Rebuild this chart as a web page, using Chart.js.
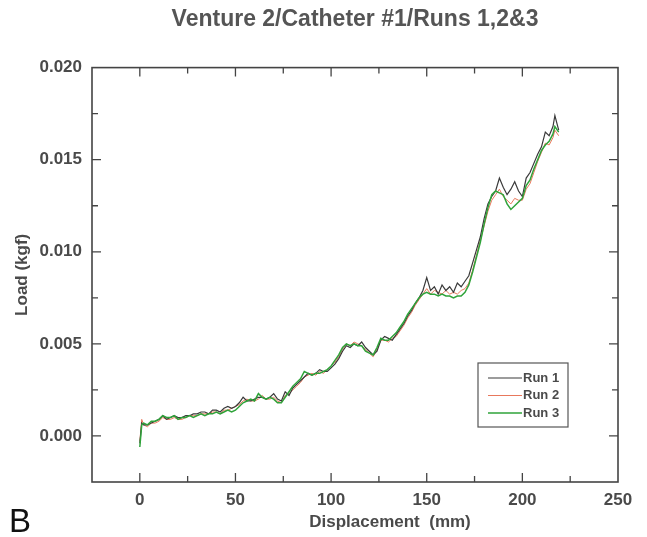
<!DOCTYPE html>
<html>
<head>
<meta charset="utf-8">
<script src="https://cdn.jsdelivr.net/npm/chart.js@4.4.1/dist/chart.umd.min.js"></script>
<style>
  body { margin: 0; background: #fff; }
  #wrap { width: 647px; height: 537px; }
</style>
</head>
<body>
<div id="wrap"><canvas id="loadChart" width="647" height="537"></canvas></div>
<script>
let loadChart = document.querySelector("#loadChart");

let displacement = [
  0, 1, 2, 4, 6, 8, 10, 12, 14, 16,
  18, 20, 22, 24, 26, 28, 30, 32, 34, 36,
  38, 40, 42, 44, 46, 48, 50, 52, 54, 56,
  58, 60, 62, 64, 66, 68, 70, 72, 74, 76,
  78, 80, 82, 84, 86, 88, 90, 92, 94, 96,
  98, 100, 102, 104, 106, 108, 110, 112, 114, 116,
  118, 120, 122, 124, 126, 128, 130, 132, 134, 136,
  138, 140, 142, 144, 146, 148, 150, 152, 154, 156,
  158, 160, 162, 164, 166, 168, 170, 172, 174, 176,
  178, 180, 182, 184, 186, 188, 190, 192, 194, 196,
  198, 200, 202, 204, 206, 208, 210, 212, 214, 216,
  217, 219,
];
let run1 = [
  -0.0004, 0.0007, 0.0006, 0.0006, 0.0007, 0.0008, 0.0009, 0.0011, 0.0009, 0.0010,
  0.0011, 0.0010, 0.0010, 0.0011, 0.0011, 0.0012, 0.0012, 0.0013, 0.0013, 0.0012,
  0.0014, 0.0014, 0.0013, 0.0015, 0.0016, 0.0015, 0.0016, 0.0018, 0.0021, 0.0019,
  0.0019, 0.0020, 0.0021, 0.0021, 0.0020, 0.0021, 0.0023, 0.0020, 0.0019, 0.0024,
  0.0022, 0.0026, 0.0028, 0.0030, 0.0032, 0.0034, 0.0033, 0.0034, 0.0036, 0.0035,
  0.0035, 0.0037, 0.0039, 0.0042, 0.0046, 0.0049, 0.0048, 0.0050, 0.0049, 0.0051,
  0.0048, 0.0046, 0.0044, 0.0046, 0.0052, 0.0054, 0.0053, 0.0052, 0.0055, 0.0058,
  0.0061, 0.0065, 0.0068, 0.0072, 0.0075, 0.0079, 0.0086, 0.0079, 0.0081, 0.0077,
  0.0082, 0.0079, 0.0081, 0.0078, 0.0083, 0.0081, 0.0084, 0.0087, 0.0094, 0.0101,
  0.0108, 0.0118, 0.0126, 0.0130, 0.0133, 0.0140, 0.0135, 0.0131, 0.0134, 0.0138,
  0.0133, 0.0130, 0.0140, 0.0143, 0.0148, 0.0153, 0.0157, 0.0165, 0.0163, 0.0168,
  0.0174, 0.0166,
];
let run2 = [
  -0.0003, 0.0009, 0.0006, 0.0005, 0.0007, 0.0007, 0.0008, 0.0010, 0.0009, 0.0009,
  0.0010, 0.0009, 0.0009, 0.0010, 0.0011, 0.0011, 0.0011, 0.0012, 0.0012, 0.0012,
  0.0013, 0.0013, 0.0012, 0.0014, 0.0014, 0.0015, 0.0016, 0.0017, 0.0019, 0.0020,
  0.0019, 0.0019, 0.0020, 0.0022, 0.0020, 0.0020, 0.0021, 0.0019, 0.0018, 0.0022,
  0.0023, 0.0025, 0.0027, 0.0029, 0.0032, 0.0033, 0.0034, 0.0033, 0.0035, 0.0034,
  0.0036, 0.0038, 0.0040, 0.0043, 0.0047, 0.0050, 0.0049, 0.0051, 0.0050, 0.0049,
  0.0047, 0.0045, 0.0043, 0.0047, 0.0052, 0.0052, 0.0051, 0.0053, 0.0054, 0.0057,
  0.0060, 0.0064, 0.0067, 0.0071, 0.0074, 0.0077, 0.0080, 0.0077, 0.0079, 0.0078,
  0.0077, 0.0079, 0.0077, 0.0078, 0.0077, 0.0079, 0.0080, 0.0083, 0.0090, 0.0098,
  0.0106, 0.0114, 0.0122, 0.0128, 0.0131, 0.0134, 0.0130, 0.0128, 0.0126, 0.0129,
  0.0128, 0.0128, 0.0134, 0.0137, 0.0143, 0.0149, 0.0154, 0.0159, 0.0158, 0.0162,
  0.0166, 0.0163,
];
let run3 = [
  -0.0006, 0.0006, 0.0007, 0.0006, 0.0008, 0.0008, 0.0009, 0.0011, 0.0010, 0.0010,
  0.0011, 0.0009, 0.0010, 0.0010, 0.0011, 0.0010, 0.0011, 0.0012, 0.0011, 0.0012,
  0.0012, 0.0013, 0.0012, 0.0013, 0.0014, 0.0013, 0.0014, 0.0016, 0.0018, 0.0019,
  0.0020, 0.0019, 0.0023, 0.0021, 0.0020, 0.0021, 0.0020, 0.0018, 0.0018, 0.0021,
  0.0024, 0.0027, 0.0029, 0.0031, 0.0035, 0.0034, 0.0033, 0.0034, 0.0034, 0.0035,
  0.0036, 0.0038, 0.0041, 0.0044, 0.0048, 0.0050, 0.0049, 0.0050, 0.0049, 0.0049,
  0.0046, 0.0045, 0.0044, 0.0048, 0.0053, 0.0052, 0.0052, 0.0054, 0.0056, 0.0059,
  0.0062, 0.0066, 0.0069, 0.0072, 0.0075, 0.0077, 0.0078, 0.0077, 0.0077, 0.0076,
  0.0077, 0.0076, 0.0076, 0.0075, 0.0076, 0.0076, 0.0078, 0.0082, 0.0089, 0.0097,
  0.0105, 0.0115, 0.0124, 0.0131, 0.0133, 0.0132, 0.0131, 0.0126, 0.0123, 0.0125,
  0.0127, 0.0129, 0.0136, 0.0139, 0.0145, 0.0150, 0.0155, 0.0158, 0.0160, 0.0164,
  0.0168, 0.0165,
];
let runLabels = ["Run 1", "Run 2", "Run 3"];
let runColors = ["#3a3a3a", "#e8785c", "#2fa33a"];

const textColor = "#4a4a4a";
const fontFamily = "'Liberation Sans', Arial, sans-serif";

function points(values) {
  return displacement.map((x, i) => ({ x: x, y: values[i] }));
}

// frame, inward ticks on all four sides, extra text
const frame = {
  id: "frame",
  afterDraw(chart) {
    const ctx = chart.ctx;
    const a = chart.chartArea;
    const xs = chart.scales.x;
    const ys = chart.scales.y;
    ctx.save();
    ctx.strokeStyle = "#444";
    ctx.lineWidth = 1.6;
    ctx.strokeRect(a.left, a.top, a.right - a.left, a.bottom - a.top);
    ctx.lineWidth = 1.3;
    ctx.beginPath();
    xs.ticks.forEach((t) => {
      let px = xs.getPixelForValue(t.value);
      if (px <= a.left + 1 || px >= a.right - 1) return;
      let len = Math.round(t.value) % 50 === 0 ? 9 : 6;
      ctx.moveTo(px, a.bottom);
      ctx.lineTo(px, a.bottom - len);
      ctx.moveTo(px, a.top);
      ctx.lineTo(px, a.top + len);
    });
    ys.ticks.forEach((t) => {
      let py = ys.getPixelForValue(t.value);
      if (py <= a.top + 1 || py >= a.bottom - 1) return;
      let len = Math.round(t.value / 0.0025) % 2 === 0 ? 9 : 6;
      ctx.moveTo(a.left, py);
      ctx.lineTo(a.left + len, py);
      ctx.moveTo(a.right, py);
      ctx.lineTo(a.right - len, py);
    });
    ctx.stroke();

    // x axis title
    ctx.fillStyle = textColor;
    ctx.font = "bold 17px " + fontFamily;
    ctx.textAlign = "center";
    ctx.textBaseline = "middle";
    ctx.fillText("Displacement  (mm)", 390, 522);

    // panel letter
    ctx.fillStyle = "#111";
    ctx.font = "33px " + fontFamily;
    ctx.textAlign = "left";
    ctx.textBaseline = "alphabetic";
    ctx.fillText("B", 9, 532);

    // legend box
    ctx.strokeStyle = "#555";
    ctx.lineWidth = 1.2;
    ctx.strokeRect(478, 363, 90, 64);
    ctx.font = "bold 13px " + fontFamily;
    ctx.textBaseline = "middle";
    chart.data.datasets.forEach((ds, i) => {
      let y = 378 + i * 17.5;
      ctx.strokeStyle = ds.borderColor;
      ctx.lineWidth = ds.borderWidth;
      ctx.beginPath();
      ctx.moveTo(488, y);
      ctx.lineTo(522, y);
      ctx.stroke();
      ctx.fillStyle = textColor;
      ctx.fillText(ds.label, 523, y);
    });
    ctx.restore();
  },
};

new Chart(loadChart, {
  type: "line",
  data: {
    datasets: [
      { label: runLabels[0], data: points(run1), borderColor: runColors[0], borderWidth: 1.2, order: 2 },
      { label: runLabels[1], data: points(run2), borderColor: runColors[1], borderWidth: 1, order: 3 },
      { label: runLabels[2], data: points(run3), borderColor: runColors[2], borderWidth: 1.5, order: 1 },
    ],
  },
  options: {
    responsive: false,
    animation: false,
    elements: {
      point: { radius: 0 },
      line: { tension: 0, fill: false },
    },
    layout: {
      padding: { left: 0, right: 29, top: 0, bottom: 0 },
    },
    scales: {
      x: {
        type: "linear",
        min: -25,
        max: 250,
        grid: { display: false, drawTicks: false },
        border: { display: false },
        afterFit: (scale) => {
          scale.height = 55;
        },
        ticks: {
          stepSize: 25,
          autoSkip: false,
          maxRotation: 0,
          padding: 8,
          color: textColor,
          font: { size: 17, weight: "bold", family: fontFamily },
          callback: (value) => {
            return value >= 0 && Math.round(value) % 50 === 0 ? String(value) : "";
          },
        },
      },
      y: {
        min: -0.0025,
        max: 0.02,
        grid: { display: false, drawTicks: false },
        border: { display: false },
        afterFit: (scale) => {
          scale.width = 92;
        },
        title: {
          display: true,
          text: "Load (kgf)",
          color: textColor,
          font: { size: 17, weight: "bold", family: fontFamily },
          padding: { top: 12, bottom: 0 },
        },
        ticks: {
          stepSize: 0.0025,
          autoSkip: false,
          padding: 10,
          color: textColor,
          font: { size: 17, weight: "bold", family: fontFamily },
          callback: (value) => {
            let k = Math.round(value / 0.0025);
            return k >= 0 && k % 2 === 0 ? (k * 0.0025).toFixed(3) : "";
          },
        },
      },
    },
    plugins: {
      legend: { display: false },
      tooltip: { enabled: false },
      title: {
        display: true,
        fullSize: false,
        text: "Venture 2/Catheter #1/Runs 1,2&3",
        color: "#555",
        font: { size: 23, weight: "bold", family: fontFamily, lineHeight: 1.2 },
        padding: { top: 6, bottom: 34 },
      },
    },
  },
  plugins: [frame],
});
</script>
</body>
</html>
